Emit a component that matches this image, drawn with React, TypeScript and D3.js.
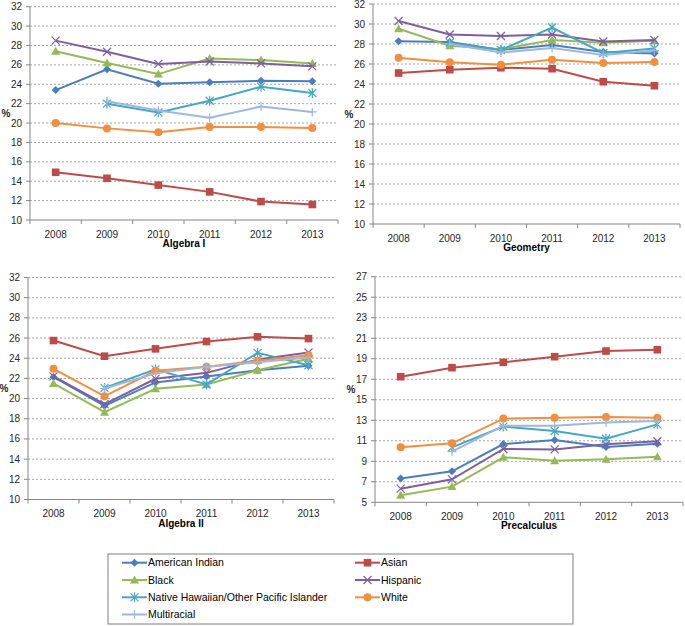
import React from 'react';
import * as d3 from 'd3';

const years = ['2008', '2009', '2010', '2011', '2012', '2013'];

const seriesNames = [
  'American Indian',
  'Asian',
  'Black',
  'Hispanic',
  'Native Hawaiian/Other Pacific Islander',
  'White',
  'Multiracial',
];

// Algebra I
const algebra1AmericanIndian = [23.4, 25.55, 24.05, 24.2, 24.35, 24.3];
const algebra1Asian = [14.92, 14.3, 13.6, 12.9, 11.9, 11.6];
const algebra1Black = [27.4, 26.2, 25.05, 26.65, 26.5, 26.15];
const algebra1Hispanic = [28.5, 27.35, 26.1, 26.35, 26.15, 25.85];
const algebra1NativeHawaiian = [null, 22.0, 21.1, 22.3, 23.75, 23.1];
const algebra1White = [20.0, 19.45, 19.05, 19.6, 19.6, 19.5];
const algebra1Multiracial = [null, 22.25, 21.3, 20.55, 21.7, 21.15];

// Geometry
const geometryAmericanIndian = [28.27, 28.2, 27.4, 27.9, 27.2, 27.05];
const geometryAsian = [25.1, 25.43, 25.63, 25.53, 24.23, 23.83];
const geometryBlack = [29.53, 27.83, 27.47, 28.4, 28.13, 28.33];
const geometryHispanic = [30.3, 28.95, 28.8, 28.95, 28.25, 28.4];
const geometryNativeHawaiian = [null, 28.13, 27.4, 29.65, 27.1, 27.55];
const geometryWhite = [26.63, 26.17, 25.93, 26.43, 26.1, 26.2];
const geometryMultiracial = [null, 28.0, 27.15, 27.6, 26.9, 27.35];

// Algebra II
const algebra2AmericanIndian = [22.15, 19.28, 21.6, 22.2, 22.8, 23.25];
const algebra2Asian = [25.75, 24.2, 24.93, 25.66, 26.12, 25.95];
const algebra2Black = [21.5, 18.65, 20.97, 21.4, 22.8, 23.95];
const algebra2Hispanic = [22.2, 19.45, 21.96, 22.55, 23.87, 24.57];
const algebra2NativeHawaiian = [null, 21.06, 22.9, 21.4, 24.53, 23.3];
const algebra2White = [22.95, 20.24, 22.75, 23.15, 23.74, 24.3];
const algebra2Multiracial = [null, 21.0, 22.5, 23.15, 23.6, 24.07];

// Precalculus
const precalcAmericanIndian = [7.31, 8.02, 10.68, 11.07, 10.39, 10.72];
const precalcAsian = [17.25, 18.13, 18.65, 19.2, 19.75, 19.88];
const precalcBlack = [5.68, 6.53, 9.39, 9.06, 9.19, 9.45];
const precalcHispanic = [6.33, 7.24, 10.2, 10.16, 10.65, 10.95];
const precalcNativeHawaiian = [null, 10.36, 12.38, 11.95, 11.2, 12.6];
const precalcWhite = [10.36, 10.75, 13.16, 13.25, 13.32, 13.25];
const precalcMultiracial = [null, 9.94, 12.47, 12.47, 12.77, 12.93];

const yTicksA = [10, 12, 14, 16, 18, 20, 22, 24, 26, 28, 30, 32];
const yTicksP = [5, 7, 9, 11, 13, 15, 17, 19, 21, 23, 25, 27];

const colors = ['#4A7DBF', '#BE4B48', '#94BA56', '#7D5FA0', '#45A8C2', '#F38E3F', '#9DB8E0'];
const markerKinds = ['diamond', 'square', 'triangle', 'x', 'star', 'circle', 'plus'];

const FONT = "'Liberation Sans', Arial, sans-serif";

function Marker({ kind, cx, cy, color }: { kind: string; cx: number; cy: number; color: string }) {
  const t = `translate(${cx},${cy})`;
  switch (kind) {
    case 'diamond':
      return <path transform={t} d="M0,-4L4,0L0,4L-4,0Z" fill={color} />;
    case 'square':
      return <rect x={cx - 3.8} y={cy - 3.8} width={7.6} height={7.6} fill={color} />;
    case 'triangle':
      return <path transform={t} d="M0,-4.5L4.5,3.5L-4.5,3.5Z" fill={color} />;
    case 'circle':
      return <circle cx={cx} cy={cy} r={4} fill={color} />;
    case 'x':
      return <path transform={t} d="M-4,-4L4,4M-4,4L4,-4" stroke={color} strokeWidth={1.2} fill="none" />;
    case 'star':
      return <path transform={t} d="M-4,-4L4,4M-4,4L4,-4M0,-5L0,5" stroke={color} strokeWidth={1.2} fill="none" />;
    case 'plus':
      return <path transform={t} d="M-4.5,0L4.5,0M0,-4.5L0,4.5" stroke={color} strokeWidth={1.2} fill="none" />;
    default:
      return null;
  }
}

type Box = { left: number; right: number; top: number; bottom: number };

function Panel({
  title,
  data,
  yDomain,
  yTicks,
  box,
}: {
  title: string;
  data: (number | null)[][];
  yDomain: [number, number];
  yTicks: number[];
  box: Box;
}) {
  const x = d3.scalePoint<string>().domain(years).range([box.left, box.right]).padding(0.5);
  const band = d3.scaleBand<string>().domain(years).range([box.left, box.right]);
  const y = d3.scaleLinear().domain(yDomain).range([box.bottom, box.top]);
  const line = d3
    .line<number | null>()
    .defined((d) => d != null)
    .x((_, i) => x(years[i]) as number)
    .y((d) => y(d as number));
  const boundaries = [...years.map((yr) => band(yr) as number), box.right];
  const axisY = y(yDomain[0]);
  return (
    <g>
      {yTicks.map((t) => (
        <g key={t}>
          {t !== yDomain[0] && (
            <line x1={box.left} x2={box.right} y1={y(t)} y2={y(t)} stroke="#A6A6A6" strokeWidth={1} strokeDasharray="2,2" />
          )}
          <line x1={box.left - 4} x2={box.left} y1={y(t)} y2={y(t)} stroke="#868686" />
          <text x={box.left - 8} y={y(t)} dy="0.35em" textAnchor="end" fontSize={10} fill="#262626" fontFamily={FONT}>
            {t}
          </text>
        </g>
      ))}
      <line x1={box.left} x2={box.left} y1={y(yDomain[1])} y2={axisY} stroke="#868686" />
      <line x1={box.left} x2={box.right} y1={axisY} y2={axisY} stroke="#868686" />
      {boundaries.map((bx, i) => (
        <line key={i} x1={bx} x2={bx} y1={axisY} y2={axisY + 4} stroke="#868686" />
      ))}
      {years.map((yr) => (
        <text key={yr} x={x(yr)} y={axisY + 17.5} textAnchor="middle" fontSize={10} fill="#262626" fontFamily={FONT}>
          {yr}
        </text>
      ))}
      <text x={(box.left + box.right) / 2} y={axisY + 27} textAnchor="middle" fontSize={10} fontWeight="bold" fill="#000" fontFamily={FONT}>
        {title}
      </text>
      <text x={box.left - 24} y={(box.top + box.bottom) / 2} dy="0.35em" textAnchor="middle" fontSize={10} fontWeight="bold" fill="#262626" fontFamily={FONT}>
        %
      </text>
      {data.map((s, si) => (
        <g key={si}>
          <path d={line(s) || ''} fill="none" stroke={colors[si]} strokeWidth={2} />
          {s.map((v, i) =>
            v == null ? null : (
              <Marker key={i} kind={markerKinds[si]} cx={x(years[i]) as number} cy={y(v)} color={colors[si]} />
            )
          )}
        </g>
      ))}
    </g>
  );
}

function Legend() {
  const boxX = 108;
  const boxY = 554;
  const boxW = 465;
  const boxH = 70;
  const colX = [122, 355];
  const rowY = [562.7, 580, 597.3, 614.5];
  return (
    <g>
      <rect x={boxX} y={boxY} width={boxW} height={boxH} fill="#fff" stroke="#7F7F7F" strokeWidth={1} />
      {seriesNames.map((name, i) => {
        const cx = colX[i % 2];
        const cy = rowY[Math.floor(i / 2)];
        return (
          <g key={name}>
            <line x1={cx} x2={cx + 25} y1={cy} y2={cy} stroke={colors[i]} strokeWidth={2} />
            <Marker kind={markerKinds[i]} cx={cx + 12.5} cy={cy} color={colors[i]} />
            <text x={cx + 26} y={cy} dy="0.35em" fontSize={10.5} fill="#000" fontFamily={FONT}>
              {name}
            </text>
          </g>
        );
      })}
    </g>
  );
}

export default function App() {
  const algebra1 = [algebra1AmericanIndian, algebra1Asian, algebra1Black, algebra1Hispanic, algebra1NativeHawaiian, algebra1White, algebra1Multiracial];
  const geometry = [geometryAmericanIndian, geometryAsian, geometryBlack, geometryHispanic, geometryNativeHawaiian, geometryWhite, geometryMultiracial];
  const algebra2 = [algebra2AmericanIndian, algebra2Asian, algebra2Black, algebra2Hispanic, algebra2NativeHawaiian, algebra2White, algebra2Multiracial];
  const precalc = [precalcAmericanIndian, precalcAsian, precalcBlack, precalcHispanic, precalcNativeHawaiian, precalcWhite, precalcMultiracial];
  return (
    <svg width={685} height={626} style={{ position: 'absolute', left: 0, top: 0, background: '#fff' }}>
      <Panel title="Algebra I" data={algebra1} yDomain={[10, 32]} yTicks={yTicksA} box={{ left: 30, right: 338, top: 6.7, bottom: 220 }} />
      <Panel title="Geometry" data={geometry} yDomain={[10, 32]} yTicks={yTicksA} box={{ left: 373, right: 680, top: 4, bottom: 224 }} />
      <Panel title="Algebra II" data={algebra2} yDomain={[10, 32]} yTicks={yTicksA} box={{ left: 28, right: 334, top: 277.5, bottom: 499.5 }} />
      <Panel title="Precalculus" data={precalc} yDomain={[5, 27]} yTicks={yTicksP} box={{ left: 375, right: 683, top: 276.7, bottom: 502.3 }} />
      <Legend />
    </svg>
  );
}
